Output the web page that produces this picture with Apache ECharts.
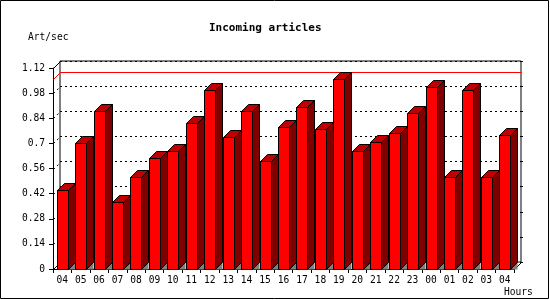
<!DOCTYPE html>
<html><head><meta charset="utf-8">
<script src="https://cdn.jsdelivr.net/npm/echarts@6/dist/echarts.min.js"></script>
<style>html,body{margin:0;padding:0;background:#fff}#c{width:550px;height:300px}</style>
</head><body><div id="c"></div>
<script>
// ---- data ----
const hours = ['04','05','06','07','08','09','10','11','12','13','14','15','16','17','18','19','20','21','22','23','00','01','02','03','04'];
const rates = [0.44,0.70,0.88,0.375,0.51,0.62,0.66,0.815,1.0,0.735,0.88,0.60,0.79,0.90,0.78,1.06,0.655,0.71,0.76,0.87,1.015,0.515,1.0,0.515,0.745];
const yTicks = [0,0.14,0.28,0.42,0.56,0.7,0.84,0.98,1.12];
const maxRate = 1.06;
const chartTitle = 'Incoming articles';
const yName = 'Art/sec';
const xName = 'Hours';

// ---- styling ----
const FONT = 'DejaVu Sans Mono';
const D = 7;           // 3D depth in px
const BAR_W = 11;      // front face width
const yMin = yTicks[0], yMax = yTicks[yTicks.length-1], yInt = yTicks[1]-yTicks[0];

const chart = echarts.init(document.getElementById('c'), null, {renderer:'canvas'});

function barItem(params, api){
  const i = api.value(0), v = api.value(1);
  const top = api.coord([i, v]);
  const base = api.coord([i, 0]);
  const x0 = Math.round(top[0] - BAR_W/2) + 0.5;
  const x1 = x0 + BAR_W;
  const yt = Math.round(top[1]) + 0.5;
  const yb = Math.round(base[1]) + 0.5;
  return {type:'group', children:[
    {type:'polygon', shape:{points:[[x1,yb],[x1+D,yb],[x1+D,yb-D]]}, style:{fill:'#808080', stroke:null}},
    {type:'polygon', shape:{points:[[x1,yt],[x1+D,yt-D],[x1+D,yb-D],[x1,yb]]}, style:{fill:'#800000', stroke:'#000', lineWidth:1}},
    {type:'polygon', shape:{points:[[x0,yt],[x0+D,yt-D],[x1+D,yt-D],[x1,yt]]}, style:{fill:'#c00000', stroke:'#000', lineWidth:1}},
    {type:'rect', shape:{x:x0, y:yt, width:BAR_W, height:yb-yt}, style:{fill:'#ff0000', stroke:'#000', lineWidth:1}}
  ]};
}

function decorItem(params, api){
  const bw = api.size([1,0])[0];
  const xl = Math.round(api.coord([0,0])[0] - bw/2) + 0.5;
  const xr = Math.round(api.coord([hours.length-1,0])[0] + bw/2) + 0.5;
  const y0 = Math.round(api.coord([0,yMin])[1]) + 0.5;
  const yT = Math.round(api.coord([0,yMax])[1]) + 0.5;
  const yM = Math.round(api.coord([0,maxRate])[1]) + 0.5;
  const ch = [
    {type:'line', shape:{x1:xl,y1:yT,x2:xl+D,y2:yT-D}, style:{stroke:'#000',lineWidth:1}},
    {type:'line', shape:{x1:xl,y1:y0,x2:xl+D,y2:y0-D}, style:{stroke:'#000',lineWidth:1}},
    {type:'line', shape:{x1:xr,y1:y0,x2:xr+D,y2:y0-D}, style:{stroke:'#000',lineWidth:1}},
    {type:'polyline', shape:{points:[[xl,yM],[xl+D,yM-D],[xr+D,yM-D]]}, style:{stroke:'#ff0000',lineWidth:1,fill:null}}
  ];
  yTicks.slice(1,-1).forEach(t=>{
    const y = Math.round(api.coord([0,t])[1]) + 0.5;
    ch.push({type:'line', shape:{x1:xl,y1:y,x2:xl+D,y2:y-D}, style:{stroke:'#000',lineWidth:1,lineDash:[2,3]}});
  });
  return {type:'group', children:ch};
}

const option = {
  animation:false,
  backgroundColor:'#fff',
  title:{text:chartTitle, left:204, top:18, textStyle:{fontFamily:FONT, fontSize:11, fontWeight:'bold', color:'#000'}},
  grid:[
    {left:53, right:36, top:68, bottom:31},
    {left:60, right:29, top:61, bottom:38, show:true, borderColor:'#000', borderWidth:1, backgroundColor:'transparent'}
  ],
  xAxis:[
    {gridIndex:0, type:'category', data:hours, boundaryGap:true,
     axisLine:{show:true, lineStyle:{color:'#000', width:1}},
     axisTick:{show:true, length:4, interval:0, lineStyle:{color:'#000'}},
     axisLabel:{interval:0, margin:6, color:'#000', fontFamily:FONT, fontSize:9.6},
     splitLine:{show:false}},
    {gridIndex:1, type:'category', data:hours, show:false}
  ],
  yAxis:[
    {gridIndex:0, type:'value', min:yMin, max:yMax, interval:yInt,
     axisLine:{show:true, lineStyle:{color:'#000', width:1}},
     axisTick:{show:true, length:4, lineStyle:{color:'#000'}},
     axisLabel:{margin:8, color:'#000', fontFamily:FONT, fontSize:9.6},
     splitLine:{show:false}},
    {gridIndex:1, type:'value', min:yMin, max:yMax, interval:yInt, position:'right',
     axisLine:{show:false},
     axisTick:{show:true, length:2, lineStyle:{color:'#000'}},
     axisLabel:{show:false},
     splitLine:{show:true, lineStyle:{color:'#000', width:1, type:[2,3]}}}
  ],
  graphic:[
    {type:'rect', shape:{x:0.5, y:0.5, width:548, height:298}, style:{fill:null, stroke:'#000', lineWidth:1}, z:100},
    {type:'text', left:28, top:32, style:{text:yName, fontFamily:FONT, fontSize:9.6, fill:'#000'}},
    {type:'text', left:504, top:287, style:{text:xName, fontFamily:FONT, fontSize:9.6, fill:'#000'}}
  ],
  series:[
    {type:'custom', xAxisIndex:0, yAxisIndex:0, z:2, renderItem:decorItem, data:[[0,0]], silent:true},
    {type:'custom', xAxisIndex:0, yAxisIndex:0, z:3, renderItem:barItem,
     encode:{x:0, y:1}, data:rates.map((v,i)=>[i,v])}
  ]
};
chart.setOption(option);
</script></body></html>
